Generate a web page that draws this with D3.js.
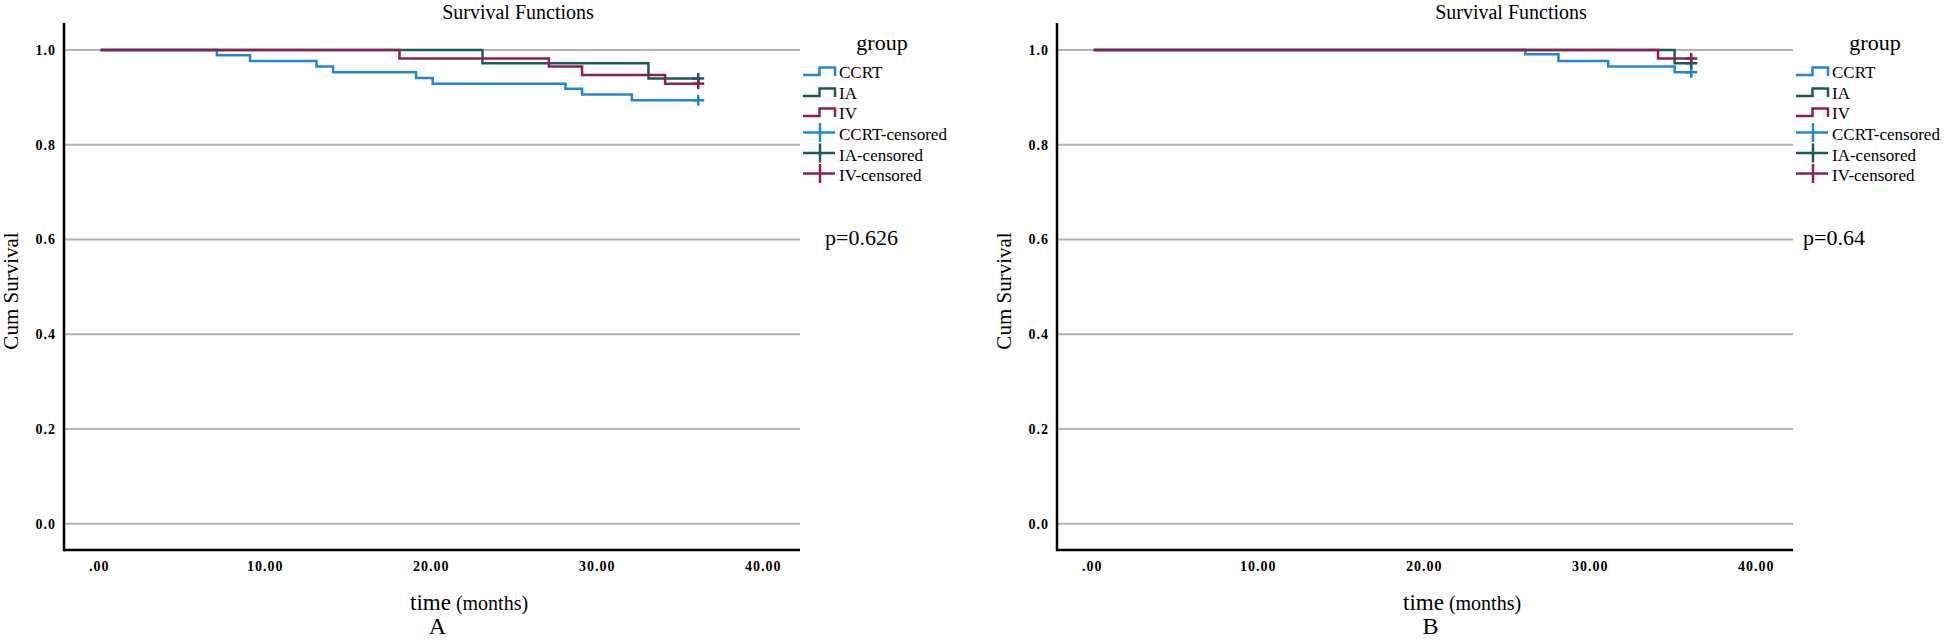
<!DOCTYPE html>
<html><head><meta charset="utf-8">
<script src="https://cdn.jsdelivr.net/npm/d3@7"></script>
<style>
html,body{margin:0;padding:0;background:#fff;}
svg{display:block;font-family:"Liberation Serif","Times New Roman",serif;}
text{font-family:"Liberation Serif","Times New Roman",serif;fill:#000;}
.tick text{font-weight:bold;font-size:14px;letter-spacing:1px;}
</style></head><body>
<svg id="chart" width="1946" height="640"></svg>
<script>
// ---------- data ----------
const groups = ["CCRT", "IA", "IV"];
const legendLabels = ["CCRT", "IA", "IV", "CCRT-censored", "IA-censored", "IV-censored"];
const timeTicks = [0, 10, 20, 30, 40];
const timeTickLabels = [".00", "10.00", "20.00", "30.00", "40.00"];
const survTicks = [0, 0.2, 0.4, 0.6, 0.8, 1.0];
const survTickLabels = ["0.0", "0.2", "0.4", "0.6", "0.8", "1.0"];

// Panel A
const ccrtA_time = [0, 7, 9, 13, 14, 19, 20, 28, 29, 32, 36];
const ccrtA_surv = [1, 0.989, 0.977, 0.965, 0.953, 0.941, 0.929, 0.918, 0.906, 0.894, 0.894];
const iaA_time = [0, 23, 33, 36];
const iaA_surv = [1, 0.972, 0.940, 0.940];
const ivA_time = [0, 18, 27, 29, 34, 36];
const ivA_surv = [1, 0.982, 0.965, 0.947, 0.929, 0.929];
const censorA_time = [36, 36, 36];
const censorA_surv = [0.894, 0.940, 0.929];
const pValueA = "p=0.626";

// Panel B
const ccrtB_time = [0, 26, 28, 31, 35, 36];
const ccrtB_surv = [1, 0.991, 0.977, 0.965, 0.953, 0.953];
const iaB_time = [0, 35, 36];
const iaB_surv = [1, 0.972, 0.972];
const ivB_time = [0, 34, 36];
const ivB_surv = [1, 0.982, 0.982];
const censorB_time = [36, 36, 36];
const censorB_surv = [0.953, 0.972, 0.982];
const pValueB = "p=0.64";

const colors = ["#2386d4", "#1b5a56", "#8a2150"];
const FONT = '"Liberation Serif","Times New Roman",serif';

// ---------- drawing ----------
const svg = d3.select("#chart");

function panel(opts) {
  const ox = opts.ox;
  const g = svg.append("g").attr("transform", `translate(${ox},0)`).attr("font-family", FONT);
  const left = 64, right = 800, top = 23, bottom = 550;
  const x = d3.scaleLinear().domain([-2.21, 42.13]).range([left, right]);
  const y = d3.scaleLinear().domain([-0.0555, 1.057]).range([bottom, top]);

  // gridlines
  g.append("g").selectAll("line").data(survTicks).join("line")
    .attr("x1", left).attr("x2", right)
    .attr("y1", d => y(d)).attr("y2", d => y(d))
    .attr("stroke", "#b3b3b3").attr("stroke-width", 2);

  // y axis
  const yAxis = d3.axisLeft(y).tickValues(survTicks)
    .tickFormat((d, i) => survTickLabels[i]).tickSize(0).tickPadding(8);
  const ya = g.append("g").attr("transform", `translate(${left},0)`).call(yAxis);
  ya.select(".domain").remove();
  ya.attr("font-family", FONT);
  ya.selectAll("text").attr("font-size", 14).attr("font-family", FONT);

  // x axis
  const xAxis = d3.axisBottom(x).tickValues(timeTicks)
    .tickFormat((d, i) => timeTickLabels[i]).tickSize(0).tickPadding(11);
  const xa = g.append("g").attr("transform", `translate(0,${bottom})`).call(xAxis);
  xa.select(".domain").remove();
  xa.attr("font-family", FONT);
  xa.selectAll("text").attr("dx", -2).attr("font-family", FONT);

  // axis lines
  g.append("line").attr("x1", left).attr("x2", left).attr("y1", top).attr("y2", bottom + 1.25)
    .attr("stroke", "#000").attr("stroke-width", 2.5);
  g.append("line").attr("x1", left).attr("x2", right).attr("y1", bottom).attr("y2", bottom)
    .attr("stroke", "#000").attr("stroke-width", 2.5);

  // curves
  const line = d3.line().curve(d3.curveStepAfter).x(d => x(d[0])).y(d => y(d[1]));
  opts.series.forEach((s, i) => {
    const pts = s.t.map((t, j) => [t, s.s[j]]);
    g.append("path").attr("d", line(pts)).attr("fill", "none")
      .attr("stroke", colors[i]).attr("stroke-width", 2.5);
  });
  // censor marks
  opts.censor.t.forEach((t, i) => {
    const cx = x(t), cy = y(opts.censor.s[i]);
    g.append("line").attr("x1", cx - 6).attr("x2", cx + 6).attr("y1", cy).attr("y2", cy)
      .attr("stroke", colors[i]).attr("stroke-width", 2.5);
    g.append("line").attr("x1", cx).attr("x2", cx).attr("y1", cy - 5.5).attr("y2", cy + 5.5)
      .attr("stroke", colors[i]).attr("stroke-width", 2.5);
  });

  // title
  g.append("text").attr("x", 518).attr("y", 18.5).attr("text-anchor", "middle")
    .attr("font-size", 20).text("Survival Functions");
  // y title
  g.append("text").attr("transform", "translate(18,291) rotate(-90)")
    .attr("text-anchor", "middle").attr("font-size", 21).text("Cum Survival");
  // x title
  const xt = g.append("text").attr("x", 410).attr("y", 610);
  xt.append("tspan").attr("font-size", 23).text("time");
  xt.append("tspan").attr("font-size", 20).attr("dx", 5).text("(months)");
  g.append("text").attr("x", 437.5).attr("y", 634).attr("text-anchor", "middle")
    .attr("font-size", 24).text(opts.letter);

  // legend
  const lx = 803;
  g.append("text").attr("x", 882).attr("y", 50).attr("text-anchor", "middle")
    .attr("font-size", 22).text("group");
  const baselines = [78, 99, 119, 140, 160.5, 181];
  legendLabels.forEach((lab, i) => {
    const c = colors[i % 3];
    const by = baselines[i];
    if (i < 3) {
      const low = by - 3, high = by - 10.5;
      g.append("path").attr("d", `M${lx},${low}H${lx + 16.5}V${high}H${lx + 32}V${low + 1}`)
        .attr("fill", "none").attr("stroke", c).attr("stroke-width", 2.5);
    } else {
      const cy = by - 7.5;
      g.append("line").attr("x1", lx).attr("x2", lx + 32).attr("y1", cy).attr("y2", cy)
        .attr("stroke", c).attr("stroke-width", 2.5);
      g.append("line").attr("x1", lx + 17).attr("x2", lx + 17).attr("y1", cy - 9.5).attr("y2", cy + 9.5)
        .attr("stroke", c).attr("stroke-width", 2.5);
    }
    g.append("text").attr("x", lx + 36).attr("y", by).attr("font-size", 17).text(lab);
  });

  // p value
  g.append("text").attr("x", opts.px).attr("y", 245).attr("font-size", 22).text(opts.p);
}

panel({
  ox: 0, letter: "A", p: pValueA, px: 825,
  series: [{t: ccrtA_time, s: ccrtA_surv}, {t: iaA_time, s: iaA_surv}, {t: ivA_time, s: ivA_surv}],
  censor: {t: censorA_time, s: censorA_surv}
});
panel({
  ox: 993, letter: "B", p: pValueB, px: 810,
  series: [{t: ccrtB_time, s: ccrtB_surv}, {t: iaB_time, s: iaB_surv}, {t: ivB_time, s: ivB_surv}],
  censor: {t: censorB_time, s: censorB_surv}
});
</script>
</body></html>
